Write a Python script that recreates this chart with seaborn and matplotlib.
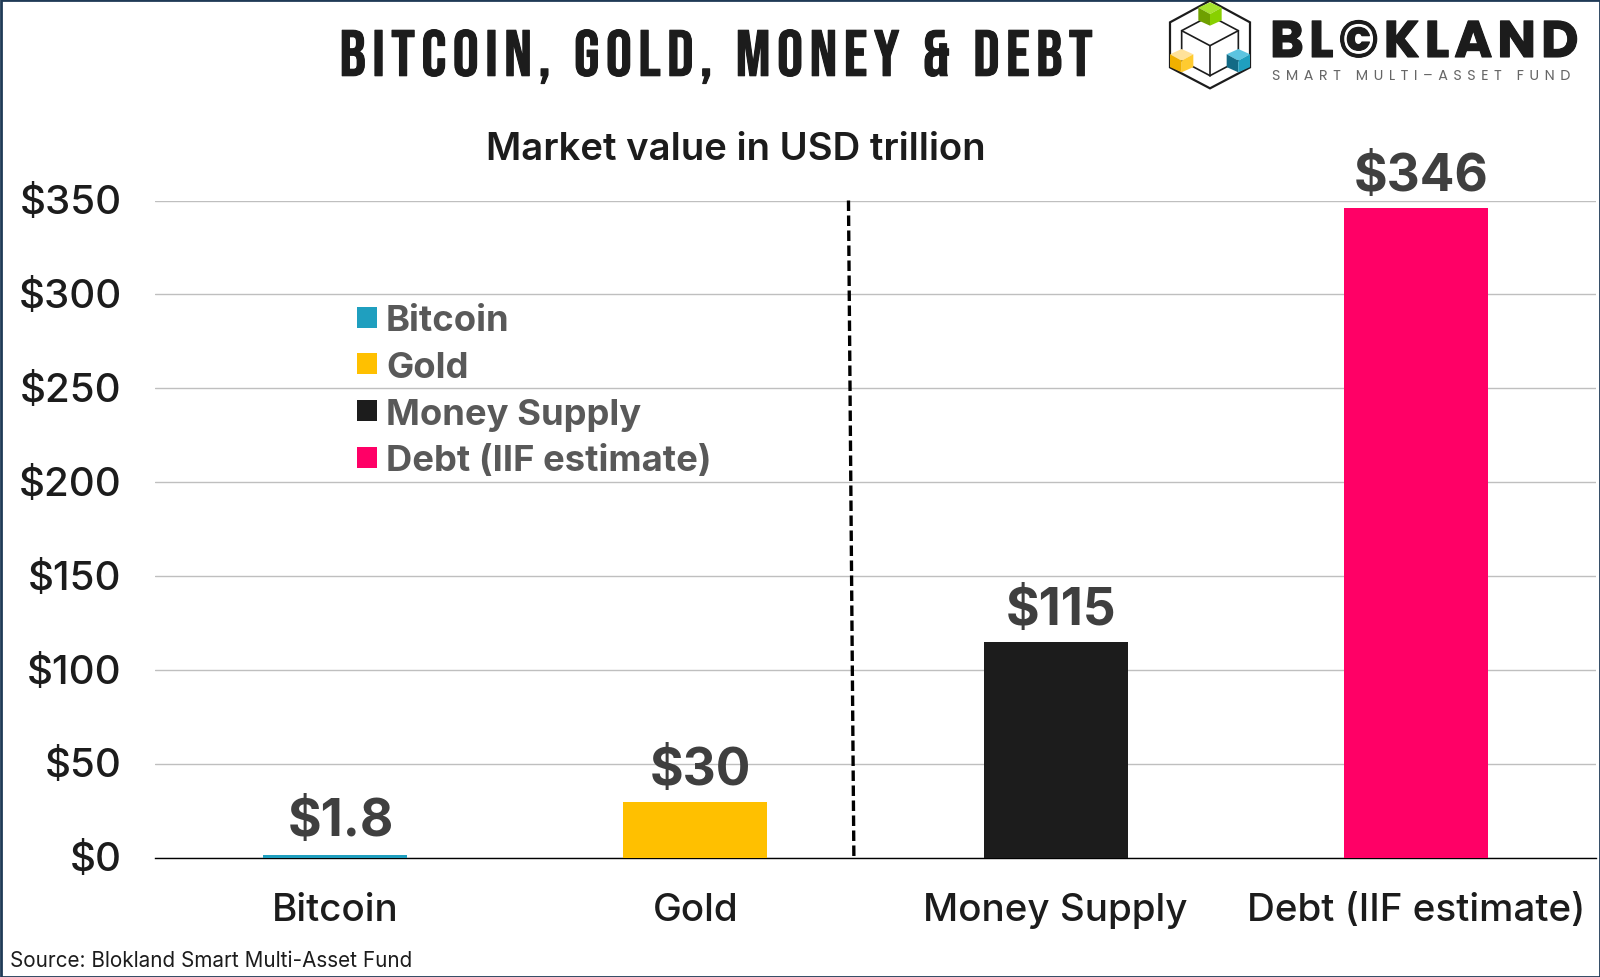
import matplotlib
matplotlib.use("Agg")
import matplotlib.pyplot as plt
import matplotlib.font_manager as fm
import matplotlib.patheffects as pe
from matplotlib.patches import Polygon, Rectangle
from matplotlib.transforms import ScaledTranslation
import seaborn as sns
import pandas as pd

categories = ["Bitcoin", "Gold", "Money Supply", "Debt (IIF estimate)"]
values = [1.8, 30, 115, 346]
value_labels = ["$1.8", "$30", "$115", "$346"]
colors = ["#1F9FBF", "#FFC000", "#1C1C1C", "#FF0066"]
yticks = [0, 50, 100, 150, 200, 250, 300, 350]
title = "BITCOIN, GOLD, MONEY & DEBT"
subtitle = "Market value in USD trillion"
source = "Source: Blokland Smart Multi-Asset Fund"

W, H = 1600, 978
sns.set_theme(style="white")
plt.rcParams["font.family"] = ["Inter", "DejaVu Sans"]
available = {f.name for f in fm.fontManager.ttflist}


def pick(*names):
    for n in names:
        if n in available:
            return n
    return "DejaVu Sans"


title_font = pick("Bebas Neue", "Oswald", "League Gothic", "Anton", "Fjalla One", "Sofia Sans Condensed")
logo_font = pick("Poppins", "Montserrat", "Inter")

fig = plt.figure(figsize=(W / 100, H / 100), dpi=100, facecolor="white")
ax = fig.add_axes([155 / W, 1 - 859 / H, (1596 - 155) / W, (859 - 201.5) / H])

df = pd.DataFrame({"category": categories, "value": values})
sns.barplot(data=df, x="category", y="value", hue="category", hue_order=categories,
            palette=colors, width=0.4, dodge=False, saturation=1, legend=True, ax=ax,
            edgecolor="none", linewidth=0)
for p in ax.patches:
    p.set_zorder(3)
ax.set_xlim(-0.5, 3.5)
ax.set_ylim(0, 350)
ax.set_xlabel("")
ax.set_ylabel("")
ax.set_yticks(yticks, [f"${v}" for v in yticks])
ax.grid(axis="y", color="#BFBFBF", lw=1)
ax.set_axisbelow(True)
for s in ["top", "left", "right"]:
    ax.spines[s].set_visible(False)
ax.spines["bottom"].set_color("black")
ax.spines["bottom"].set_linewidth(1.0)
ax.tick_params(axis="y", length=0, pad=24, labelsize=29, labelcolor="#1C1C1C")
ax.tick_params(axis="x", length=0, pad=24.3, labelsize=27.8, labelcolor="#1C1C1C")
for t in ax.get_xticklabels() + ax.get_yticklabels():
    t.set_fontweight("medium")
up = ScaledTranslation(0, 1.5 / 72, fig.dpi_scale_trans)
for t in ax.get_yticklabels():
    t.set_transform(t.get_transform() + up)

for i, (v, lab) in enumerate(zip(values, value_labels)):
    ax.annotate(lab, (i, v), xytext=(4, 5 if i else 6), textcoords="offset points",
                ha="center", va="bottom", fontsize=37, fontweight="bold", color="#3F3F3F")

ax.plot([1.425, 1.44], [350, 0], color="black", lw=2.4, ls=(0, (3.15, 1.35)), clip_on=False)

handles, labels = ax.get_legend_handles_labels()
leg = ax.legend(handles, labels, loc="upper left", bbox_to_anchor=((357 - 155) / 1441, (859 - 305) / 657.5),
                frameon=False, fontsize=26.2, handlelength=0.55, handleheight=0.51,
                handletextpad=0.25, labelspacing=0.38, borderpad=0, borderaxespad=0,
                labelcolor="#595959")
for t in leg.get_texts():
    t.set_fontweight("bold")

# overlay in pixel space for header, source, logo and frame
ov = fig.add_axes([0, 0, 1, 1], zorder=5)
ov.set_xlim(0, W)
ov.set_ylim(H, 0)
ov.axis("off")
ov.patch.set_alpha(0)

ov.text(716, 58, "\u200a".join(title), ha="center", va="center", family=[title_font, "DejaVu Sans"],
        fontsize=46.8, color="#1C1C1C", path_effects=[pe.withStroke(linewidth=0.8, foreground="#1C1C1C")])
ov.text(736, 150, subtitle, ha="center", va="center", fontsize=27.6, fontweight="semibold", color="#1C1C1C")
ov.text(10, 961, source, ha="left", va="center", fontsize=14.9, color="#1C1C1C")

ov.add_patch(Rectangle((0.5, 0.5), W - 1, H - 1, fill=False, ec="#1F3A56", lw=2))


def z(x, y):
    return (1120 + x / 3, y / 3)


def cube(cx, cy, r, top, left, right):
    h = r * 0.55
    ov.add_patch(Polygon([z(cx, cy - r), z(cx + r, cy - h), z(cx, cy), z(cx - r, cy - h)], fc=top, ec="none", zorder=4))
    ov.add_patch(Polygon([z(cx - r, cy - h), z(cx, cy), z(cx, cy + r), z(cx - r, cy + h)], fc=left, ec="none", zorder=4))
    ov.add_patch(Polygon([z(cx + r, cy - h), z(cx, cy), z(cx, cy + r), z(cx + r, cy + h)], fc=right, ec="none", zorder=4))


ov.add_patch(Polygon([z(270, 5), z(390, 70), z(390, 205), z(270, 268), z(150, 205), z(150, 70)],
                     fill=False, ec="#1C1C1C", lw=1.6))
ov.add_patch(Polygon([z(270, 50), z(355, 95), z(355, 185), z(270, 230), z(185, 185), z(185, 95)],
                     fill=False, ec="#1C1C1C", lw=1.2))
ov.plot(*zip(z(185, 95), z(270, 140), z(355, 95)), color="#1C1C1C", lw=1.2)
ov.plot(*zip(z(270, 140), z(270, 230)), color="#1C1C1C", lw=1.2)
cube(270, 45, 35, "#A6E22E", "#6FA000", "#88D000")
cube(185, 185, 35, "#FFE29A", "#F0B000", "#FFCB30")
cube(355, 185, 35, "#5CC4E0", "#126A85", "#1F9FBF")

ov.text(1270, 58, "\u200a".join("BL\u00a9KLAND"), fontsize=37, fontweight="bold", color="#1C1C1C",
        ha="left", va="baseline", family=[logo_font, "DejaVu Sans"],
        path_effects=[pe.withStroke(linewidth=0.8, foreground="#1C1C1C")])
ov.text(1272, 80, "\u200a\u200a\u200a\u200a".join("SMART MULTI\u2013ASSET FUND"), fontsize=10.3, color="#666666",
        ha="left", va="baseline", family=[logo_font, "DejaVu Sans"])

fig.savefig("out.png", dpi=100)
